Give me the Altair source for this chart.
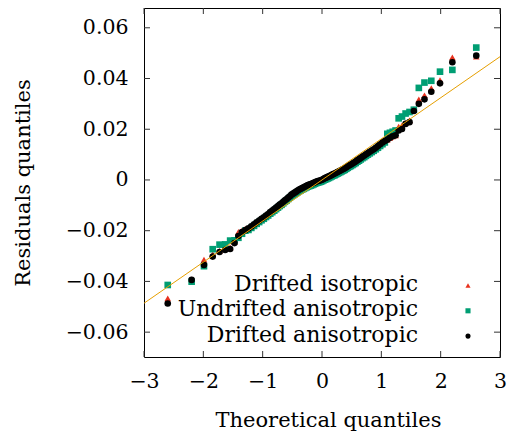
import altair as alt
import pandas as pd

# ---------------- data ----------------
series_names = ["Drifted isotropic", "Undrifted anisotropic", "Drifted anisotropic"]
series_colors = ["#e8321e", "#009e73", "#000000"]
series_shapes = ["triangle-up", "square", "circle"]

theoretical_q = [
    -2.600, -2.197, -1.989, -1.842, -1.727, -1.632, -1.548, -1.475, -1.409, -1.348,
    -1.292, -1.240, -1.191, -1.145, -1.101, -1.059, -1.019, -0.980, -0.943, -0.907,
    -0.872, -0.838, -0.805, -0.773, -0.742, -0.712, -0.682, -0.653, -0.624, -0.596,
    -0.568, -0.541, -0.514, -0.487, -0.461, -0.435, -0.410, -0.384, -0.359, -0.334,
    -0.310, -0.285, -0.261, -0.237, -0.213, -0.189, -0.165, -0.141, -0.117, -0.094,
    -0.070, -0.047, -0.023, 0.000, 0.023, 0.047, 0.070, 0.094, 0.117, 0.141,
    0.165, 0.189, 0.213, 0.237, 0.261, 0.285, 0.310, 0.334, 0.359, 0.384,
    0.410, 0.435, 0.461, 0.487, 0.514, 0.541, 0.568, 0.596, 0.624, 0.653,
    0.682, 0.712, 0.742, 0.773, 0.805, 0.838, 0.872, 0.907, 0.943, 0.980,
    1.019, 1.059, 1.101, 1.145, 1.191, 1.240, 1.292, 1.348, 1.409, 1.475,
    1.548, 1.632, 1.727, 1.842, 1.989, 2.197, 2.600,
]

drifted_isotropic = [
    -0.0467, -0.0392, -0.0314, -0.0292, -0.0280, -0.0272, -0.0266, -0.0244, -0.0205, -0.0199,
    -0.0192, -0.0191, -0.0183, -0.0175, -0.0167, -0.0160, -0.0153, -0.0147, -0.0140, -0.0134,
    -0.0127, -0.0121, -0.0115, -0.0109, -0.0103, -0.0097, -0.0092, -0.0086, -0.0080, -0.0075,
    -0.0069, -0.0064, -0.0058, -0.0054, -0.0050, -0.0046, -0.0042, -0.0038, -0.0035, -0.0032,
    -0.0029, -0.0026, -0.0023, -0.0020, -0.0018, -0.0016, -0.0014, -0.0011, -0.0009, -0.0006,
    -0.0004, -0.0003, -0.0001, 0.0001, 0.0004, 0.0007, 0.0009, 0.0012, 0.0014, 0.0017,
    0.0020, 0.0023, 0.0025, 0.0028, 0.0031, 0.0034, 0.0037, 0.0040, 0.0043, 0.0046,
    0.0050, 0.0054, 0.0058, 0.0061, 0.0065, 0.0069, 0.0073, 0.0078, 0.0082, 0.0087,
    0.0092, 0.0096, 0.0101, 0.0106, 0.0111, 0.0116, 0.0121, 0.0127, 0.0134, 0.0141,
    0.0148, 0.0154, 0.0159, 0.0166, 0.0172, 0.0176, 0.0210, 0.0215, 0.0225, 0.0235,
    0.0278, 0.0318, 0.0334, 0.0362, 0.0394, 0.0483, 0.0486,
]

undrifted_anisotropic = [
    -0.0414, -0.0401, -0.0340, -0.0273, -0.0255, -0.0254, -0.0239, -0.0238, -0.0228, -0.0212,
    -0.0200, -0.0197, -0.0189, -0.0181, -0.0173, -0.0166, -0.0159, -0.0153, -0.0146, -0.0140,
    -0.0133, -0.0127, -0.0121, -0.0115, -0.0109, -0.0103, -0.0098, -0.0092, -0.0086, -0.0081,
    -0.0075, -0.0070, -0.0064, -0.0060, -0.0056, -0.0052, -0.0048, -0.0044, -0.0041, -0.0038,
    -0.0035, -0.0032, -0.0029, -0.0026, -0.0024, -0.0022, -0.0020, -0.0017, -0.0015, -0.0012,
    -0.0010, -0.0009, -0.0007, -0.0005, -0.0002, 0.0001, 0.0003, 0.0006, 0.0008, 0.0011,
    0.0014, 0.0017, 0.0019, 0.0022, 0.0025, 0.0028, 0.0031, 0.0034, 0.0037, 0.0040,
    0.0044, 0.0048, 0.0052, 0.0055, 0.0059, 0.0063, 0.0067, 0.0072, 0.0076, 0.0081,
    0.0086, 0.0090, 0.0095, 0.0100, 0.0105, 0.0110, 0.0115, 0.0121, 0.0127, 0.0134,
    0.0141, 0.0148, 0.0182, 0.0186, 0.0190, 0.0195, 0.0243, 0.0250, 0.0262, 0.0268,
    0.0277, 0.0363, 0.0384, 0.0391, 0.0427, 0.0434, 0.0522,
]

drifted_anisotropic = [
    -0.0487, -0.0394, -0.0335, -0.0302, -0.0284, -0.0276, -0.0272, -0.0249, -0.0221, -0.0205,
    -0.0198, -0.0191, -0.0183, -0.0175, -0.0167, -0.0160, -0.0153, -0.0147, -0.0140, -0.0134,
    -0.0127, -0.0121, -0.0115, -0.0109, -0.0103, -0.0097, -0.0092, -0.0086, -0.0080, -0.0075,
    -0.0069, -0.0064, -0.0058, -0.0054, -0.0050, -0.0046, -0.0042, -0.0038, -0.0035, -0.0032,
    -0.0029, -0.0026, -0.0023, -0.0020, -0.0018, -0.0016, -0.0014, -0.0011, -0.0009, -0.0006,
    -0.0004, -0.0003, -0.0001, 0.0001, 0.0004, 0.0007, 0.0009, 0.0012, 0.0014, 0.0017,
    0.0020, 0.0023, 0.0025, 0.0028, 0.0031, 0.0034, 0.0037, 0.0040, 0.0043, 0.0046,
    0.0050, 0.0054, 0.0058, 0.0061, 0.0065, 0.0069, 0.0073, 0.0078, 0.0082, 0.0087,
    0.0092, 0.0096, 0.0101, 0.0106, 0.0111, 0.0116, 0.0121, 0.0127, 0.0134, 0.0141,
    0.0148, 0.0154, 0.0159, 0.0166, 0.0172, 0.0176, 0.0195, 0.0201, 0.0221, 0.0228,
    0.0272, 0.0300, 0.0318, 0.0348, 0.0381, 0.0464, 0.0490,
]

# reference (fit) line end points
fit_x = [-3.0, 3.0]
fit_y = [-0.0486, 0.0486]

x_tick_values = [-3, -2, -1, 0, 1, 2, 3]
y_tick_values = [-0.06, -0.04, -0.02, 0.0, 0.02, 0.04, 0.06]

# ---------------- chart ----------------
W, H = 356, 349
FONT = "DejaVu Serif"

rows = []
for name, ys in zip(series_names, [drifted_isotropic, undrifted_anisotropic, drifted_anisotropic]):
    for xq, yq in zip(theoretical_q, ys):
        rows.append({"series": name, "x": xq, "y": yq})
df = pd.DataFrame(rows)
fit_df = pd.DataFrame({"x": fit_x, "y": fit_y})
xt_df = pd.DataFrame({"v": x_tick_values})
yt_df = pd.DataFrame({"v": y_tick_values})

xscale = alt.Scale(domain=[-3, 3], nice=False, zero=False)
yscale = alt.Scale(domain=[-0.0698, 0.0678], nice=False, zero=False)

xaxis = alt.Axis(
    values=x_tick_values, format="d", title="Theoretical quantiles",
    ticks=False, domain=False, grid=False, labelFlush=False, labelOverlap=False,
    labelFont=FONT, labelFontSize=20.5, labelColor="black", labelPadding=14,
    titleFont=FONT, titleFontSize=21, titleFontWeight="normal", titleColor="black",
    titlePadding=18, titleX=184,
)
yaxis = alt.Axis(
    values=y_tick_values, title="Residuals quantiles",
    labelExpr="datum.value == 0 ? '0' : format(datum.value, '.2f')",
    ticks=False, domain=False, grid=False, labelFlush=False, labelOverlap=False,
    labelFont=FONT, labelFontSize=20.5, labelColor="black", labelPadding=16,
    titleFont=FONT, titleFontSize=21, titleFontWeight="normal", titleColor="black",
    titlePadding=32,
)

points = alt.Chart(df).mark_point(filled=True, size=44, opacity=1).encode(
    x=alt.X("x:Q", scale=xscale, axis=xaxis),
    y=alt.Y("y:Q", scale=yscale, axis=yaxis),
    color=alt.Color("series:N", scale=alt.Scale(domain=series_names, range=series_colors),
                    legend=None),
    shape=alt.Shape("series:N", scale=alt.Scale(domain=series_names, range=series_shapes),
                    legend=None),
)

fit_line = alt.Chart(fit_df).mark_line(color="#e69f00", strokeWidth=1).encode(
    x=alt.X("x:Q", scale=xscale, axis=xaxis),
    y=alt.Y("y:Q", scale=yscale, axis=yaxis),
)

TICK_COLOR = "#333333"
left_ticks = alt.Chart(yt_df).mark_rule(color=TICK_COLOR, strokeWidth=1).encode(
    y=alt.Y("v:Q", scale=yscale, axis=yaxis), x=alt.value(0), x2=alt.value(6))
right_ticks = alt.Chart(yt_df).mark_rule(color=TICK_COLOR, strokeWidth=1).encode(
    y=alt.Y("v:Q", scale=yscale, axis=yaxis), x=alt.value(W - 6), x2=alt.value(W))
bottom_ticks = alt.Chart(xt_df).mark_rule(color=TICK_COLOR, strokeWidth=1).encode(
    x=alt.X("v:Q", scale=xscale, axis=xaxis), y=alt.value(H - 6), y2=alt.value(H))
top_ticks = alt.Chart(xt_df).mark_rule(color=TICK_COLOR, strokeWidth=1).encode(
    x=alt.X("v:Q", scale=xscale, axis=xaxis), y=alt.value(0), y2=alt.value(6))

# legend (inside the plot, lower right: label right-aligned, symbol to its right)
LEG_TEXT_X = 274
LEG_SYM_X = 324
LEG_BASE_Y = 283
LEG_ROW = 25.3
legend_layers = []
for i, name in enumerate(series_names):
    legend_layers.append(
        alt.Chart(pd.DataFrame({"label": [name]})).mark_text(
            align="right", baseline="alphabetic", font=FONT, fontSize=22, color="black"
        ).encode(text="label:N", x=alt.value(LEG_TEXT_X), y=alt.value(LEG_BASE_Y + LEG_ROW * i))
    )
    legend_layers.append(
        alt.Chart(pd.DataFrame({"label": [name]})).mark_point(
            filled=True, opacity=1, size=26, shape=series_shapes[i], color=series_colors[i]
        ).encode(x=alt.value(LEG_SYM_X), y=alt.value(LEG_BASE_Y - 5.5 + LEG_ROW * i))
    )

chart = alt.layer(
    left_ticks, right_ticks, bottom_ticks, top_ticks, points, fit_line, *legend_layers
).properties(
    width=W, height=H,
    autosize=alt.AutoSizeParams(type="none"),
    padding={"left": 136, "top": 0, "right": 10, "bottom": 75},
    background="white",
).configure_view(stroke="black", strokeWidth=1)

chart.save("out.html", embed_options={"renderer": "svg", "actions": False})
